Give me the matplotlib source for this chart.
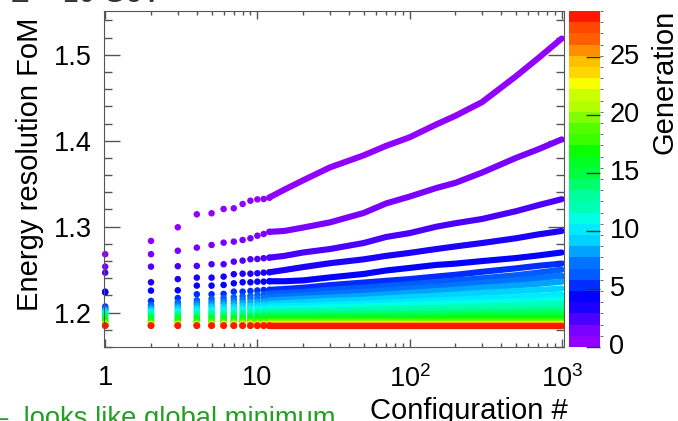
import colorsys
import numpy as np
import matplotlib
matplotlib.use("Agg")
import matplotlib.pyplot as plt
import matplotlib.ticker as mticker
import matplotlib.transforms as mtransforms
from matplotlib.colors import ListedColormap, BoundaryNorm
from matplotlib.cm import ScalarMappable

plt.rcParams.update({
    "font.family": "Liberation Sans",
    "font.size": 19,
    "axes.edgecolor": "#555555",
    "xtick.color": "#555555",
    "ytick.color": "#555555",
    "xtick.labelcolor": "black",
    "ytick.labelcolor": "black",
})

# ---- data ----
generations = list(range(30))

# single dots at the low configuration numbers
low_configs = [1, 2, 3, 4, 5, 6, 7, 8, 9, 10, 11, 12]
low_fom = [
    [1.268, 1.2834, 1.2993, 1.3144, 1.3156, 1.3206, 1.3214, 1.3264, 1.3302, 1.3318, 1.3322, 1.3337],
    [1.2535, 1.268, 1.272, 1.2756, 1.2787, 1.2814, 1.2826, 1.2845, 1.2865, 1.2895, 1.2915, 1.294],
    [1.2465, 1.2535, 1.254, 1.2543, 1.2563, 1.2563, 1.2593, 1.2605, 1.2621, 1.2624, 1.2633, 1.264],
    [1.2244, 1.2353, 1.239, 1.2407, 1.2407, 1.2419, 1.2447, 1.2453, 1.2453, 1.2458, 1.2465, 1.247],
    [1.2235, 1.2256, 1.226, 1.2314, 1.2314, 1.2322, 1.2341, 1.2353, 1.2353, 1.236, 1.236, 1.2365],
    [1.207, 1.2136, 1.217, 1.2214, 1.2214, 1.2218, 1.2244, 1.2244, 1.2252, 1.2258, 1.2264, 1.2265],
    [1.205, 1.209, 1.212, 1.2145, 1.216, 1.217, 1.218, 1.219, 1.2195, 1.2205, 1.221, 1.222],
    [1.204, 1.207, 1.2095, 1.211, 1.2125, 1.2135, 1.2145, 1.215, 1.216, 1.2165, 1.217, 1.218],
    [1.203, 1.205, 1.207, 1.2085, 1.2095, 1.2105, 1.211, 1.2115, 1.212, 1.2125, 1.213, 1.214],
    [1.2015, 1.203, 1.2045, 1.2055, 1.2065, 1.207, 1.2075, 1.208, 1.2085, 1.209, 1.2095, 1.21],
    [1.2, 1.201, 1.202, 1.203, 1.2035, 1.204, 1.2045, 1.205, 1.2055, 1.206, 1.2065, 1.207],
    [1.1995, 1.2, 1.2005, 1.201, 1.2015, 1.202, 1.2025, 1.203, 1.203, 1.2035, 1.2035, 1.204],
    [1.199, 1.1985, 1.199, 1.1995, 1.1995, 1.2, 1.2, 1.2005, 1.2005, 1.201, 1.201, 1.201],
    [1.198, 1.197, 1.1975, 1.1975, 1.198, 1.198, 1.1985, 1.1985, 1.1985, 1.199, 1.199, 1.199],
    [1.196, 1.1955, 1.196, 1.196, 1.196, 1.1965, 1.1965, 1.1965, 1.197, 1.197, 1.197, 1.197],
    [1.193, 1.1935, 1.194, 1.194, 1.194, 1.1945, 1.1945, 1.1945, 1.195, 1.195, 1.195, 1.195],
    [1.191, 1.1915, 1.192, 1.192, 1.192, 1.1925, 1.1925, 1.1925, 1.193, 1.193, 1.193, 1.193],
    [1.19, 1.19, 1.1905, 1.1905, 1.1905, 1.191, 1.191, 1.191, 1.191, 1.191, 1.191, 1.191],
    [1.189, 1.189, 1.189, 1.189, 1.1895, 1.1895, 1.1895, 1.19, 1.19, 1.19, 1.19, 1.19],
    [1.188, 1.188, 1.188, 1.188, 1.188, 1.1885, 1.1885, 1.1885, 1.1885, 1.189, 1.189, 1.189],
    [1.187, 1.187, 1.187, 1.187, 1.1875, 1.1875, 1.1875, 1.1875, 1.188, 1.188, 1.188, 1.188],
    [1.1865, 1.1865, 1.1865, 1.1865, 1.1865, 1.187, 1.187, 1.187, 1.187, 1.187, 1.187, 1.187],
    [1.186, 1.186, 1.186, 1.186, 1.186, 1.1865, 1.1865, 1.1865, 1.1865, 1.1865, 1.1865, 1.1865],
    [1.1855, 1.1855, 1.1855, 1.1855, 1.1855, 1.186, 1.186, 1.186, 1.186, 1.186, 1.186, 1.186],
    [1.1855, 1.1855, 1.1855, 1.1855, 1.1855, 1.1855, 1.1855, 1.1855, 1.1855, 1.1855, 1.1855, 1.1855],
    [1.185, 1.185, 1.185, 1.185, 1.185, 1.185, 1.185, 1.185, 1.185, 1.185, 1.185, 1.185],
    [1.185, 1.185, 1.185, 1.185, 1.185, 1.185, 1.185, 1.185, 1.185, 1.185, 1.185, 1.185],
    [1.185, 1.185, 1.185, 1.185, 1.185, 1.185, 1.185, 1.185, 1.185, 1.185, 1.185, 1.185],
    [1.1848, 1.1848, 1.1848, 1.1848, 1.1848, 1.1848, 1.1848, 1.1848, 1.1848, 1.1848, 1.1848, 1.1848],
    [1.1848, 1.1848, 1.1848, 1.1848, 1.1848, 1.1848, 1.1848, 1.1848, 1.1848, 1.1848, 1.1848, 1.1848],
]

# dense part: the dots merge into a thick band, read at these configurations
curve_configs = [12, 15, 20, 30, 50, 70, 100, 150, 200, 300, 500, 700, 1000]
curve_fom = [
    [1.334, 1.343, 1.354, 1.369, 1.383, 1.394, 1.404, 1.419, 1.429, 1.445, 1.475, 1.496, 1.519],
    [1.294, 1.295, 1.299, 1.305, 1.316, 1.327, 1.335, 1.345, 1.351, 1.363, 1.380, 1.390, 1.4016],
    [1.264, 1.266, 1.270, 1.274, 1.281, 1.288, 1.2925, 1.300, 1.304, 1.309, 1.318, 1.325, 1.332],
    [1.247, 1.2495, 1.253, 1.2575, 1.262, 1.266, 1.2695, 1.274, 1.277, 1.281, 1.2865, 1.291, 1.295],
    [1.2365, 1.2365, 1.2375, 1.241, 1.245, 1.249, 1.252, 1.2555, 1.257, 1.260, 1.2635, 1.2665, 1.270],
    [1.2265, 1.2275, 1.229, 1.232, 1.235, 1.237, 1.239, 1.242, 1.244, 1.2475, 1.2515, 1.2545, 1.257],
    [1.222, 1.223, 1.224, 1.2265, 1.229, 1.231, 1.233, 1.2355, 1.2375, 1.240, 1.2435, 1.2465, 1.250],
    [1.218, 1.219, 1.220, 1.222, 1.224, 1.226, 1.228, 1.230, 1.232, 1.2345, 1.2375, 1.240, 1.243],
    [1.214, 1.215, 1.216, 1.2175, 1.2195, 1.221, 1.223, 1.225, 1.2265, 1.229, 1.2315, 1.2335, 1.236],
    [1.210, 1.211, 1.212, 1.2135, 1.215, 1.2165, 1.218, 1.2195, 1.221, 1.223, 1.225, 1.2265, 1.228],
    [1.207, 1.2075, 1.208, 1.209, 1.2105, 1.2115, 1.2125, 1.214, 1.215, 1.2165, 1.2185, 1.2195, 1.221],
    [1.204, 1.2045, 1.205, 1.206, 1.207, 1.208, 1.209, 1.210, 1.2105, 1.2115, 1.213, 1.214, 1.215],
    [1.201, 1.2015, 1.202, 1.2025, 1.2035, 1.204, 1.205, 1.2055, 1.206, 1.207, 1.208, 1.209, 1.210],
    [1.199, 1.199, 1.1995, 1.200, 1.2005, 1.201, 1.2015, 1.202, 1.2025, 1.203, 1.2035, 1.204, 1.205],
    [1.197, 1.197, 1.1975, 1.1975, 1.198, 1.1985, 1.1985, 1.199, 1.199, 1.1995, 1.200, 1.2005, 1.201],
    [1.195, 1.195, 1.195, 1.1955, 1.1955, 1.196, 1.196, 1.196, 1.1965, 1.1965, 1.1965, 1.197, 1.197],
    [1.193, 1.193, 1.193, 1.193, 1.1935, 1.1935, 1.1935, 1.1935, 1.194, 1.194, 1.194, 1.194, 1.194],
    [1.191, 1.191, 1.191, 1.191, 1.1915, 1.1915, 1.1915, 1.1915, 1.192, 1.192, 1.192, 1.192, 1.192],
    [1.190, 1.190, 1.190, 1.190, 1.190, 1.190, 1.190, 1.190, 1.190, 1.190, 1.190, 1.190, 1.190],
    [1.189, 1.189, 1.189, 1.189, 1.189, 1.189, 1.189, 1.1885, 1.1885, 1.1885, 1.1885, 1.1885, 1.1885],
    [1.188, 1.188, 1.188, 1.188, 1.188, 1.188, 1.1875, 1.1875, 1.1875, 1.1875, 1.1875, 1.1875, 1.1875],
    [1.187, 1.187, 1.187, 1.187, 1.187, 1.187, 1.187, 1.187, 1.187, 1.187, 1.187, 1.187, 1.187],
    [1.1865, 1.1865, 1.1865, 1.1865, 1.1865, 1.1865, 1.1865, 1.1865, 1.1865, 1.1865, 1.1865, 1.1865, 1.1865],
    [1.186, 1.186, 1.186, 1.186, 1.186, 1.186, 1.186, 1.186, 1.186, 1.186, 1.186, 1.186, 1.186],
    [1.1855, 1.1855, 1.1855, 1.1855, 1.1855, 1.1855, 1.1855, 1.1855, 1.1855, 1.1855, 1.1855, 1.1855, 1.1855],
    [1.1855, 1.1855, 1.1855, 1.1855, 1.1855, 1.1855, 1.1855, 1.1855, 1.1855, 1.1855, 1.1855, 1.1855, 1.1855],
    [1.185, 1.185, 1.185, 1.185, 1.185, 1.185, 1.185, 1.185, 1.185, 1.185, 1.185, 1.185, 1.185],
    [1.185, 1.185, 1.185, 1.185, 1.185, 1.185, 1.185, 1.185, 1.185, 1.185, 1.185, 1.185, 1.185],
    [1.185, 1.185, 1.185, 1.185, 1.185, 1.185, 1.185, 1.185, 1.185, 1.185, 1.185, 1.185, 1.185],
    [1.185, 1.185, 1.185, 1.185, 1.185, 1.185, 1.185, 1.185, 1.185, 1.185, 1.185, 1.185, 1.185],
]

cbar_ticks = [0, 5, 10, 15, 20, 25]
x_tick_labels = ["1", "10", r"$\mathregular{10^{2}}$", r"$\mathregular{10^{3}}$"]

# ---- ROOT "pretty" palette (violet -> red), 30 contour bands from 0 to 29 ----
n_bands = 30
band_colors = []
for icol in range(n_bands):
    j = int(icol * 50 / n_bands)
    hue = 280 - (j + 1) * 5.6
    band_colors.append(colorsys.hls_to_rgb(hue / 360.0, 0.5, 1.0))
cmap = ListedColormap(band_colors)
levels = np.linspace(0, 29, n_bands + 1)
norm = BoundaryNorm(levels, n_bands)


def gen_color(g):
    return band_colors[min(int(g * n_bands / 29), n_bands - 1)]


fig = plt.figure(figsize=(6.78, 4.21), dpi=100)
ax = fig.add_axes([0.1538, 0.1758, 0.6785, 0.7981])
cax = fig.add_axes([0.8385, 0.1758, 0.0465, 0.7981])

for g in generations:
    c = gen_color(g)
    ax.plot(curve_configs, curve_fom[g], color=c, linewidth=4.4,
            solid_capstyle="round", solid_joinstyle="round", zorder=2 + g * 0.01)
    ax.scatter(low_configs, low_fom[g], s=22, color=c, edgecolors="none",
               zorder=2 + g * 0.01, clip_on=False)

ax.set_xscale("log")
ax.set_xlim(0.986, 1040)
ax.set_ylim(1.160, 1.551)

ax.xaxis.set_major_locator(mticker.FixedLocator([1, 10, 100, 1000]))
ax.xaxis.set_major_formatter(mticker.FixedFormatter(x_tick_labels))
ax.xaxis.set_minor_locator(mticker.LogLocator(base=10, subs=np.arange(2, 10)))
ax.xaxis.set_minor_formatter(mticker.NullFormatter())
ax.yaxis.set_major_locator(mticker.MultipleLocator(0.1))
ax.yaxis.set_minor_locator(mticker.MultipleLocator(0.02))
ax.yaxis.set_major_formatter(mticker.FormatStrFormatter("%.1f"))

ax.tick_params(axis="both", which="both", direction="in", top=True, right=True)
ax.tick_params(axis="x", which="major", length=6, width=1, pad=13, labelsize=19.5)
ax.tick_params(axis="x", which="minor", length=3, width=1)
ax.tick_params(axis="y", which="major", length=11.5, width=1, pad=9, labelsize=19.5)
ax.tick_params(axis="y", which="minor", length=5.5, width=1)

fig.text(568 / 678, 1 - 419 / 421, "Configuration #", ha="right", va="baseline",
         fontsize=21)
fig.text(30 / 678, 1 - 164 / 421, "Energy resolution FoM", rotation=90,
         ha="center", va="center", fontsize=21)

# colour scale: tick marks on the bar, numbers placed just right of it
cb = fig.colorbar(ScalarMappable(norm=norm, cmap=cmap), cax=cax, ticks=cbar_ticks)
cb.outline.set_visible(False)
cax.yaxis.set_ticks_position("right")
cax.tick_params(axis="y", direction="in", length=10, width=1, color="#333333",
                labelright=False, labelleft=False)
label_trans = mtransforms.blended_transform_factory(cax.transAxes, cax.transData)
for t in cbar_ticks:
    cax.text(1.3, t, str(t), transform=label_trans, ha="left", va="center",
             fontsize=19.5, clip_on=False)
fig.text(664 / 678, 1 - 10 / 421, "Generation", rotation=90, ha="center", va="top",
         fontsize=21)

# slide text cut off at the edges
fig.text(10 / 678, 1 - 2 / 421, "E = 10 GeV", ha="left", va="baseline", fontsize=21,
         color="#333333")
fig.text(-7 / 678, 1 - 426 / 421, "\u2013  looks like global minimum", ha="left",
         va="baseline", fontsize=19.7, color="#22a022")

fig.savefig("out.png", dpi=100)
